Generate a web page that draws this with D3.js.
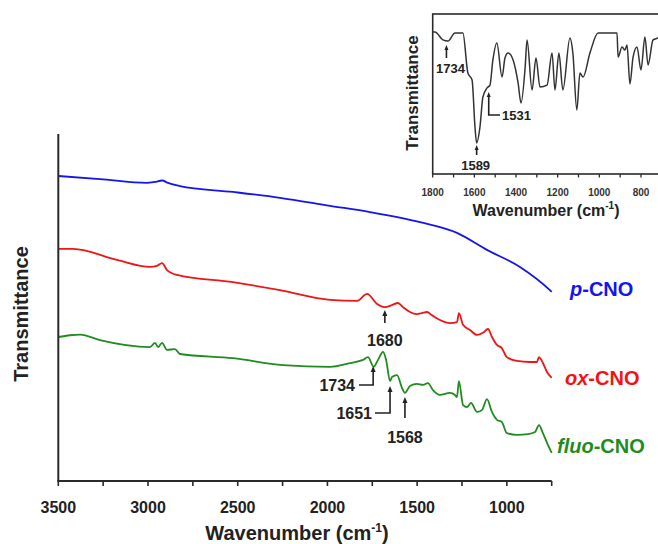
<!DOCTYPE html>
<html>
<head>
<meta charset="utf-8">
<script src="https://cdn.jsdelivr.net/npm/d3@7"></script>
<style>
  html, body { margin: 0; padding: 0; background: #fff; }
  svg { display: block; font-family: "Liberation Sans", Arial, sans-serif; }
</style>
</head>
<body>
<svg id="chart" width="658" height="544"></svg>
<script>
// FTIR spectra of carbon nano-onions (offset, arbitrary transmittance units)
const pCNO = [
  [3500, 87.9], [3268, 87.0], [3006, 85.9], [2961, 86.2], [2922, 86.6], [2888, 85.9],
  [2822, 85.0], [2526, 83.3], [2264, 81.6], [1985, 79.3], [1763, 77.5], [1484, 74.6],
  [1278, 71.5], [1111, 66.6], [927, 61.7], [760, 55.0], [750, 54.5]
];
const oxCNO = [
  [3500, 66.9], [3418, 66.9], [3173, 63.7], [2989, 61.7], [2950, 62.0], [2922, 62.8],
  [2894, 60.8], [2838, 59.4], [2526, 57.3], [2264, 55.0], [1985, 52.2], [1835, 51.9],
  [1779, 53.9], [1723, 51.0], [1680, 50.1], [1640, 50.7], [1607, 51.3], [1579, 50.1],
  [1540, 48.7], [1501, 48.1], [1473, 48.4], [1445, 48.7], [1418, 47.8], [1373, 46.4],
  [1317, 45.5], [1278, 45.8], [1267, 48.4], [1244, 45.0], [1205, 43.5], [1166, 42.1],
  [1133, 42.7], [1105, 43.8], [1083, 41.5], [1055, 39.2], [1028, 38.3], [1000, 35.7],
  [944, 34.6], [871, 34.3], [832, 34.3], [821, 35.7], [799, 34.0], [776, 31.4], [750, 29.7]
];
const fluoCNO = [
  [3500, 41.5], [3435, 42.0], [3379, 42.2], [3268, 40.6], [2989, 38.6], [2961, 39.8],
  [2944, 38.6], [2922, 39.8], [2894, 37.8], [2850, 38.0], [2822, 36.6], [2526, 35.4],
  [2248, 33.4], [1985, 32.9], [1874, 34.0], [1802, 34.9], [1774, 35.7], [1742, 32.9],
  [1718, 34.9], [1690, 37.2], [1673, 34.9], [1651, 28.8], [1640, 30.0], [1612, 30.5],
  [1584, 26.8], [1568, 25.4], [1540, 27.4], [1501, 28.0], [1467, 27.7], [1440, 28.2],
  [1412, 26.2], [1373, 24.8], [1317, 25.4], [1289, 24.8], [1278, 24.2], [1267, 28.8],
  [1244, 21.9], [1222, 21.3], [1200, 22.5], [1166, 19.9], [1138, 20.5], [1111, 23.6],
  [1083, 19.9], [1055, 17.6], [1028, 17.0], [1000, 13.8], [944, 13.3], [882, 13.5],
  [843, 14.1], [821, 16.1], [799, 13.8], [776, 11.0], [750, 8.1]
];
// Inset: fluo-CNO, 1800-700 cm-1
const insetSpectrum = [
  [1800, 88.8], [1789, 88.8], [1751, 83.8], [1727, 83.1], [1693, 88.1], [1655, 88.1],
  [1631, 63.1], [1611, 58.8], [1597, 29.4], [1589, 19.4], [1573, 29.4], [1559, 48.1],
  [1539, 53.8], [1525, 55.6], [1511, 71.3], [1492, 81.9], [1467, 60.6], [1453, 72.5],
  [1438, 75.6], [1414, 71.3], [1390, 56.9], [1376, 44.4], [1356, 66.9], [1347, 83.8],
  [1323, 52.5], [1304, 72.5], [1285, 54.4], [1251, 55.6], [1227, 75.6], [1213, 52.5],
  [1194, 75.6], [1175, 52.5], [1141, 85.0], [1127, 75.6], [1108, 40.0], [1093, 63.1],
  [1078, 60.6], [1045, 75.6], [1006, 88.1], [949, 88.1], [915, 88.1], [910, 73.1],
  [891, 79.4], [877, 77.5], [867, 80.6], [853, 56.3], [838, 73.1], [819, 79.4],
  [800, 65.0], [781, 85.6], [766, 68.1], [742, 83.8], [718, 85.0], [700, 86.3]
];

const mainTicks = [3500, 3000, 2500, 2000, 1500, 1000];
const mainMinorTicks = [3500, 3250, 3000, 2750, 2500, 2250, 2000, 1750, 1500, 1250, 1000, 750];
const insetTicks = [1800, 1600, 1400, 1200, 1000, 800];
const insetMinorTicks = [1800, 1700, 1600, 1500, 1400, 1300, 1200, 1100, 1000, 900, 800, 700];

const seriesNames = ["p-CNO", "ox-CNO", "fluo-CNO"];
const seriesColors = ["#1414f0", "#f01414", "#1f8c1f"];

const mainPeaks = [1680, 1734, 1651, 1568];
const insetPeaks = [1734, 1589, 1531];

const svg = d3.select("#chart");
const axisColor = "#2a2a2a";
const textColor = "#222";

// ---------- main plot ----------
const x = d3.scaleLinear().domain([3500, 750]).range([58.3, 551.7]);
const y = d3.scaleLinear().domain([0, 100]).range([481, 134]);

const line = d3.line().x(d => x(d[0])).y(d => y(d[1])).curve(d3.curveMonotoneX);

[pCNO, oxCNO, fluoCNO].forEach((s, i) => {
  svg.append("path").datum(s)
    .attr("d", line)
    .attr("fill", "none")
    .attr("stroke", seriesColors[i])
    .attr("stroke-width", 1.8)
    .attr("stroke-linejoin", "round");
});

// axes
svg.append("line").attr("x1", x(3500)).attr("x2", x(3500))
  .attr("y1", 134).attr("y2", 481).attr("stroke", axisColor).attr("stroke-width", 2);
const xAxis = svg.append("g").attr("transform", "translate(0,481)");
xAxis.append("line").attr("x1", x(3500) - 1).attr("x2", x(750))
  .attr("stroke", axisColor).attr("stroke-width", 2);
xAxis.selectAll("line.tick").data(mainMinorTicks).join("line")
  .attr("class", "tick")
  .attr("x1", d => x(d)).attr("x2", d => x(d))
  .attr("y1", 0).attr("y2", 5)
  .attr("stroke", axisColor).attr("stroke-width", 1.6);
xAxis.selectAll("text").data(mainTicks).join("text")
  .attr("x", d => x(d)).attr("y", 32)
  .attr("text-anchor", "middle")
  .attr("font-size", 16).attr("font-weight", "bold").attr("fill", textColor)
  .text(d => d);

const xTitle = svg.append("text")
  .attr("x", 297).attr("y", 540)
  .attr("text-anchor", "middle")
  .attr("font-size", 20).attr("font-weight", "bold").attr("fill", textColor);
xTitle.append("tspan").text("Wavenumber (cm");
xTitle.append("tspan").attr("font-size", 12).attr("dy", -8).text("-1");
xTitle.append("tspan").attr("dy", 8).text(")");

svg.append("text")
  .attr("transform", "translate(28,314) rotate(-90)")
  .attr("text-anchor", "middle")
  .attr("font-size", 20).attr("font-weight", "bold").attr("fill", textColor)
  .text("Transmittance");

// series labels
const labelPos = [[570, 296], [565, 385], [557, 453]];
seriesNames.forEach((name, i) => {
  const parts = name.split("-");
  const t = svg.append("text")
    .attr("x", labelPos[i][0]).attr("y", labelPos[i][1])
    .attr("font-size", 20).attr("font-weight", "bold").attr("fill", seriesColors[i]);
  t.append("tspan").attr("font-style", "italic").text(parts[0]);
  t.append("tspan").text("-" + parts[1]);
});

// arrow helpers: vertical arrow pointing up to (ax, tipY)
function arrowHead(g, ax, tipY, w, h) {
  g.append("path")
    .attr("d", `M${ax},${tipY} L${ax - w / 2},${tipY + h} L${ax + w / 2},${tipY + h} Z`)
    .attr("fill", textColor);
}
function stem(g, pts) {
  g.append("path").attr("d", d3.line()(pts))
    .attr("fill", "none").attr("stroke", textColor).attr("stroke-width", 1.6);
}

const ann = svg.append("g");
const annFont = 16;
// 1680 on ox-CNO
{
  const ax = x(mainPeaks[0]);
  stem(ann, [[ax, 323], [ax, 314]]);
  arrowHead(ann, ax, 310, 5, 6);
  ann.append("text").attr("x", ax).attr("y", 346).attr("text-anchor", "middle")
    .attr("font-size", annFont).attr("font-weight", "bold").attr("fill", textColor).text(mainPeaks[0]);
}
// 1734 on fluo-CNO
{
  const ax = x(mainPeaks[1]) - 2;
  stem(ann, [[359, 385], [ax, 385], [ax, 370]]);
  arrowHead(ann, ax, 366, 5, 6);
  ann.append("text").attr("x", 355).attr("y", 391).attr("text-anchor", "end")
    .attr("font-size", annFont).attr("font-weight", "bold").attr("fill", textColor).text(mainPeaks[1]);
}
// 1651 on fluo-CNO
{
  const ax = x(mainPeaks[2]);
  stem(ann, [[375, 413], [ax, 413], [ax, 390]]);
  arrowHead(ann, ax, 386, 5, 6);
  ann.append("text").attr("x", 372).attr("y", 419).attr("text-anchor", "end")
    .attr("font-size", annFont).attr("font-weight", "bold").attr("fill", textColor).text(mainPeaks[2]);
}
// 1568 on fluo-CNO
{
  const ax = x(mainPeaks[3]);
  stem(ann, [[ax, 418], [ax, 401]]);
  arrowHead(ann, ax, 397, 5, 6);
  ann.append("text").attr("x", ax).attr("y", 443).attr("text-anchor", "middle")
    .attr("font-size", annFont).attr("font-weight", "bold").attr("fill", textColor).text(mainPeaks[3]);
}

// ---------- inset ----------
const ix = d3.scaleLinear().domain([1800, 700]).range([432.7, 661.8]);
const iy = d3.scaleLinear().domain([0, 100]).range([174, 14]);
const inset = svg.append("g");

inset.append("rect")
  .attr("x", ix(1800)).attr("y", iy(100))
  .attr("width", ix(700) - ix(1800)).attr("height", iy(0) - iy(100))
  .attr("fill", "#fff").attr("stroke", axisColor).attr("stroke-width", 1.6);

inset.append("path").datum(insetSpectrum)
  .attr("d", d3.line().x(d => ix(d[0])).y(d => iy(d[1])).curve(d3.curveMonotoneX))
  .attr("fill", "none").attr("stroke", "#333").attr("stroke-width", 1.5)
  .attr("stroke-linejoin", "round");

inset.selectAll("line.itick").data(insetMinorTicks).join("line")
  .attr("class", "itick")
  .attr("x1", d => ix(d)).attr("x2", d => ix(d))
  .attr("y1", iy(0)).attr("y2", iy(0) + 3.5)
  .attr("stroke", axisColor).attr("stroke-width", 1.3);
inset.selectAll("text.ilabel").data(insetTicks).join("text")
  .attr("class", "ilabel")
  .attr("x", d => ix(d)).attr("y", 196)
  .attr("text-anchor", "middle")
  .attr("font-size", 10).attr("font-weight", "bold").attr("fill", "#333")
  .text(d => d);

const ixTitle = inset.append("text")
  .attr("x", 546).attr("y", 216)
  .attr("text-anchor", "middle")
  .attr("font-size", 16).attr("font-weight", "bold").attr("fill", textColor);
ixTitle.append("tspan").text("Wavenumber (cm");
ixTitle.append("tspan").attr("font-size", 10).attr("dy", -7).text("-1");
ixTitle.append("tspan").attr("dy", 7).text(")");

inset.append("text")
  .attr("transform", "translate(418,93) rotate(-90)")
  .attr("text-anchor", "middle")
  .attr("font-size", 17).attr("font-weight", "bold").attr("fill", textColor)
  .text("Transmittance");

// inset peak labels
{
  const ax = ix(insetPeaks[0]);
  stem(inset, [[ax, 58], [ax, 48]]);
  arrowHead(inset, ax, 45, 4, 5);
  inset.append("text").attr("x", ax + 4).attr("y", 73).attr("text-anchor", "middle")
    .attr("font-size", 13).attr("font-weight", "bold").attr("fill", textColor).text(insetPeaks[0]);
}
{
  const ax = ix(insetPeaks[1]);
  stem(inset, [[ax, 155], [ax, 148]]);
  arrowHead(inset, ax, 145, 4, 5);
  inset.append("text").attr("x", ax - 1).attr("y", 170).attr("text-anchor", "middle")
    .attr("font-size", 13).attr("font-weight", "bold").attr("fill", textColor).text(insetPeaks[1]);
}
{
  const ax = ix(insetPeaks[2]);
  stem(inset, [[500, 115], [ax, 115], [ax, 96]]);
  arrowHead(inset, ax, 92, 4, 5);
  inset.append("text").attr("x", 502).attr("y", 120).attr("text-anchor", "start")
    .attr("font-size", 13).attr("font-weight", "bold").attr("fill", textColor).text(insetPeaks[2]);
}
</script>
</body>
</html>
